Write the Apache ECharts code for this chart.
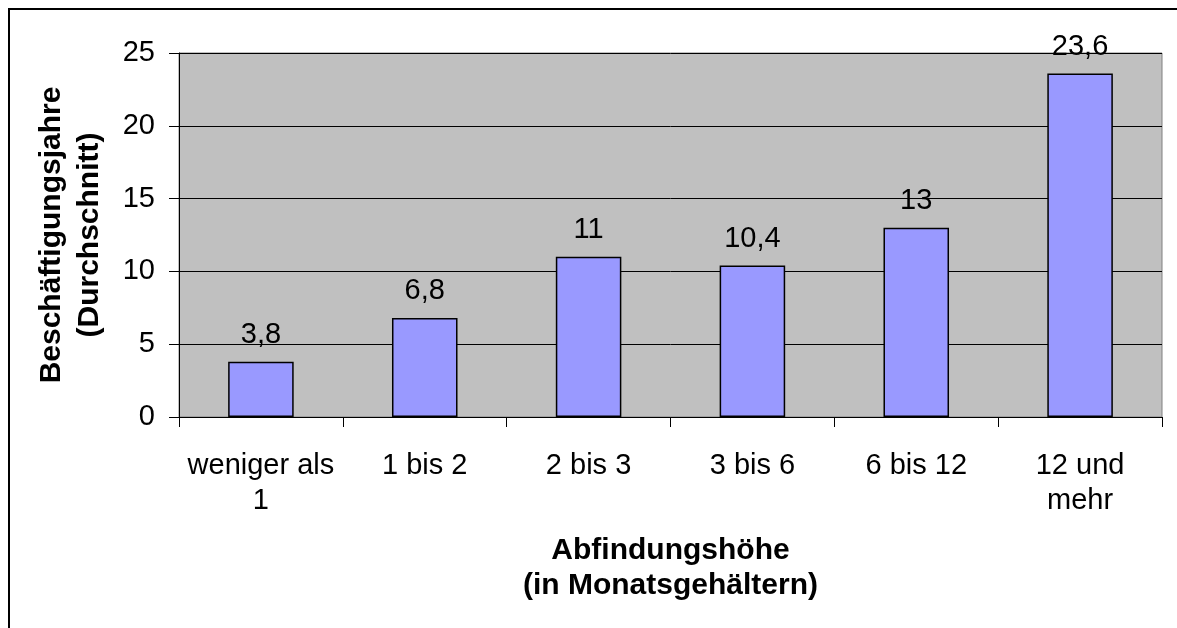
<!DOCTYPE html>
<html lang="de">
  <head>
    <meta charset="UTF-8" />
    <title>Abfindungshöhe</title>
    <script src="https://cdn.jsdelivr.net/npm/echarts@6/dist/echarts.min.js"></script>
    <style>
      html, body { margin: 0; padding: 0; background: #fff; }
      #main { width: 1177px; height: 628px; }
    </style>
  </head>
  <body>
    <div id="main"></div>
    <script>
      // Daten
      var kategorien = ["weniger als\n1", "1 bis 2", "2 bis 3", "3 bis 6", "6 bis 12", "12 und\nmehr"];
      var jahre = [3.8, 6.8, 11, 10.4, 13, 23.6];
      var yTicks = [0, 5, 10, 15, 20, 25];

      var schrift = "'Liberation Sans', Arial, sans-serif";
      var chart = echarts.init(document.getElementById("main"));

      var option = {
        animation: false,
        backgroundColor: "#fff",
        textStyle: { fontFamily: schrift, color: "#000" },
        grid: {
          left: 179, right: 15, top: 53, bottom: 211,
          show: true,
          backgroundColor: "#c0c0c0",
          borderColor: "#808080",
          borderWidth: 1
        },
        graphic: [
          {
            type: "rect",
            shape: { x: 9, y: 9, width: 1300, height: 800 },
            style: { fill: "none", stroke: "#000", lineWidth: 2 },
            silent: true
          }
        ],
        xAxis: {
          type: "category",
          data: kategorien,
          name: "Abfindungshöhe\n(in Monatsgehältern)",
          nameLocation: "middle",
          nameGap: 116,
          nameTextStyle: { fontSize: 30, fontWeight: "bold", lineHeight: 35, color: "#000" },
          axisLine: { lineStyle: { color: "#000", width: 1 } },
          axisTick: { show: true, inside: false, length: 10, alignWithLabel: false, lineStyle: { color: "#000" } },
          axisLabel: { fontSize: 29, lineHeight: 35, margin: 31, color: "#000", interval: 0 }
        },
        yAxis: {
          type: "value",
          min: yTicks[0],
          max: yTicks[yTicks.length - 1],
          interval: yTicks[1] - yTicks[0],
          name: "Beschäftigungsjahre\n(Durchschnitt)",
          nameLocation: "middle",
          nameGap: 70,
          nameRotate: 90,
          nameTextStyle: { fontSize: 30, fontWeight: "bold", lineHeight: 38, color: "#000" },
          axisLine: { show: true, lineStyle: { color: "#000", width: 1 } },
          axisTick: { show: true, length: 10, lineStyle: { color: "#000" } },
          axisLabel: { fontSize: 29, margin: 24, color: "#000" },
          splitLine: { show: true, lineStyle: { color: "#000", width: 1 } }
        },
        series: [
          {
            type: "bar",
            data: jahre,
            barWidth: "40%",
            itemStyle: { color: "#9999ff", borderColor: "#000", borderWidth: 1.5 },
            label: {
              show: true,
              position: "top",
              distance: 12,
              fontSize: 29,
              color: "#000",
              formatter: function (p) { return String(p.value).replace(".", ","); }
            }
          }
        ]
      };
      chart.setOption(option);
    </script>
  </body>
</html>
